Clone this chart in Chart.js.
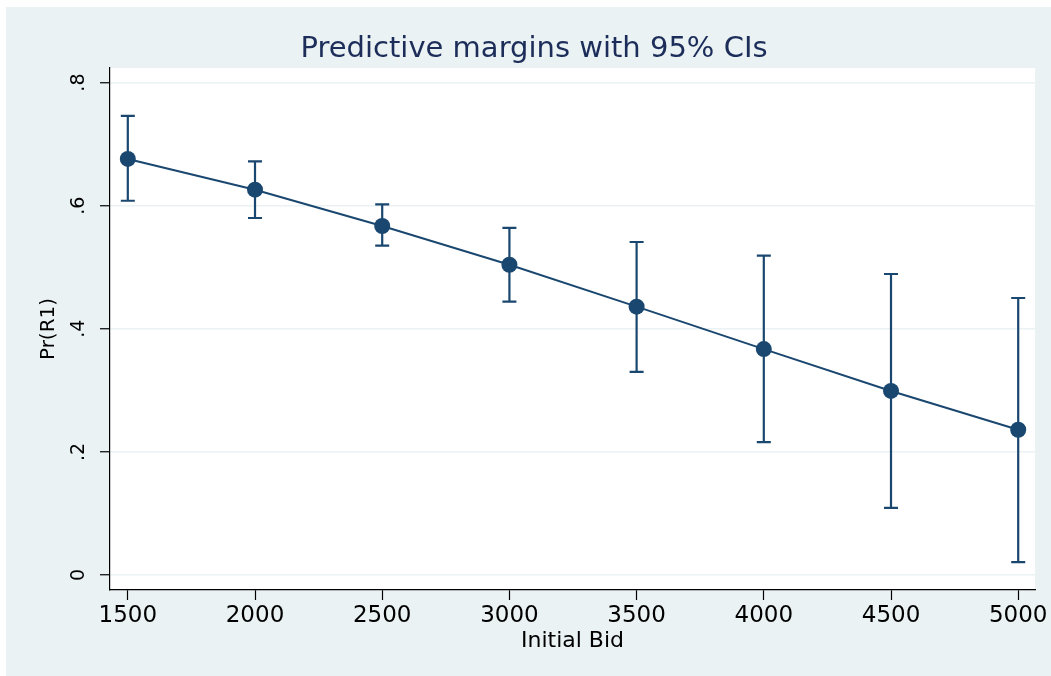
<!DOCTYPE html>
<html>
<head>
<meta charset="utf-8">
<script src="https://cdn.jsdelivr.net/npm/chart.js@4.4.0/dist/chart.umd.min.js"></script>
<style>
  html, body { margin: 0; padding: 0; background: #ffffff; }
  #wrap { position: absolute; left: 0; top: 0; width: 1051px; height: 676px; }
</style>
</head>
<body>
<div id="wrap"><canvas id="c" width="1051" height="676"></canvas></div>
<script>
// ---- data ----
const bids      = [1500, 2000, 2500, 3000, 3500, 4000, 4500, 5000];
const margins   = [0.676, 0.626, 0.567, 0.504, 0.436, 0.367, 0.299, 0.236];
const ciLower   = [0.608, 0.580, 0.535, 0.444, 0.330, 0.216, 0.109, 0.021];
const ciUpper   = [0.746, 0.672, 0.602, 0.564, 0.541, 0.519, 0.489, 0.450];
const xTickVals = [1500, 2000, 2500, 3000, 3500, 4000, 4500, 5000];
const yTickVals = [0, 0.2, 0.4, 0.6, 0.8];
const yTickLbls = ['0', '.2', '.4', '.6', '.8'];

const NAVY = '#1a476f';
const BG = '#eaf2f3';
const FONT = "'DejaVu Sans', sans-serif";

const bgPlugin = {
  id: 'bg',
  beforeDraw(chart) {
    const ctx = chart.ctx;
    ctx.save();
    ctx.fillStyle = '#ffffff';
    ctx.fillRect(0, 0, chart.width, chart.height);
    ctx.fillStyle = BG;
    ctx.fillRect(6, 7, chart.width - 6, chart.height - 7);
    const a = chart.chartArea;
    ctx.fillStyle = '#ffffff';
    ctx.fillRect(a.left, a.top, a.right - a.left, a.bottom - a.top);
    ctx.restore();
  }
};

const errPlugin = {
  id: 'errbars',
  beforeDatasetsDraw(chart) {
    const ctx = chart.ctx;
    const xs = chart.scales.x, ys = chart.scales.y;
    ctx.save();
    ctx.strokeStyle = NAVY;
    ctx.lineWidth = 2.2;
    const cap = 7;
    for (let i = 0; i < bids.length; i++) {
      const px = xs.getPixelForValue(bids[i]);
      const pl = ys.getPixelForValue(ciLower[i]);
      const pu = ys.getPixelForValue(ciUpper[i]);
      ctx.beginPath();
      ctx.moveTo(px, pl); ctx.lineTo(px, pu);
      ctx.moveTo(px - cap, pl); ctx.lineTo(px + cap, pl);
      ctx.moveTo(px - cap, pu); ctx.lineTo(px + cap, pu);
      ctx.stroke();
    }
    ctx.restore();
  }
};

new Chart(document.getElementById('c'), {
  type: 'line',
  data: {
    datasets: [{
      data: bids.map((b, i) => ({ x: b, y: margins[i] })),
      borderColor: NAVY,
      backgroundColor: NAVY,
      borderWidth: 2,
      pointRadius: 8,
      pointHoverRadius: 8,
      pointBackgroundColor: NAVY,
      pointBorderColor: NAVY,
      pointBorderWidth: 0,
      tension: 0,
      clip: false
    }]
  },
  options: {
    responsive: false,
    animation: false,
    events: [],
    layout: { padding: { top: 7, right: 16, bottom: 16, left: 33 } },
    plugins: {
      legend: { display: false },
      tooltip: { enabled: false },
      title: {
        display: true,
        text: 'Predictive margins with 95% CIs',
        color: '#1c2d5a',
        font: { family: FONT, size: 29, weight: 'normal' },
        padding: { top: 24.6, bottom: 1.6 }
      }
    },
    scales: {
      x: {
        type: 'linear',
        min: 1430,
        max: 5066,
        afterBuildTicks(scale) { scale.ticks = xTickVals.map(v => ({ value: v })); },
        afterFit(scale) { scale.height = 70; },
        ticks: {
          color: '#000000',
          font: { family: FONT, size: 23 },
          padding: 2,
          maxRotation: 0,
          autoSkip: false,
          callback: v => String(v)
        },
        grid: { drawOnChartArea: false, drawTicks: true, tickLength: 10, tickColor: '#000000', tickWidth: 1.2 },
        border: { display: true, color: '#000000', width: 1.2 },
        title: {
          display: true,
          text: 'Initial Bid',
          color: '#000000',
          font: { family: FONT, size: 22 },
          padding: { top: 0, bottom: 6 }
        }
      },
      y: {
        type: 'linear',
        min: -0.0244,
        max: 0.8237,
        afterBuildTicks(scale) { scale.ticks = yTickVals.map(v => ({ value: v })); },
        afterFit(scale) { scale.width = 77; },
        ticks: {
          color: '#000000',
          font: { family: FONT, size: 19 },
          padding: 12,
          minRotation: 90,
          maxRotation: 90,
          crossAlign: 'center',
          autoSkip: false,
          callback: v => {
            const i = yTickVals.findIndex(t => Math.abs(t - v) < 1e-9);
            return i >= 0 ? yTickLbls[i] : '';
          }
        },
        grid: { color: BG, lineWidth: 1.5, drawTicks: true, tickLength: 10, tickColor: '#000000', tickWidth: 1.2 },
        border: { display: true, color: '#000000', width: 1.2 },
        title: {
          display: true,
          text: 'Pr(R1)',
          color: '#000000',
          font: { family: FONT, size: 20 },
          padding: { top: 4, bottom: 0 }
        }
      }
    }
  },
  plugins: [bgPlugin, errPlugin]
});
</script>
</body>
</html>
